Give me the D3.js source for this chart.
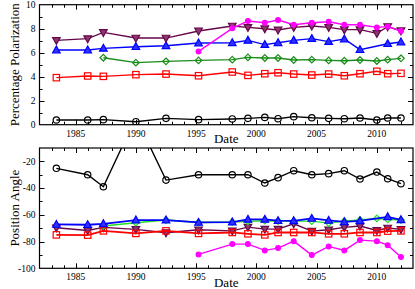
<!DOCTYPE html>
<html><head><meta charset="utf-8">
<script src="https://cdn.jsdelivr.net/npm/d3@7"></script>
<style>body{margin:0;background:#fff}svg{display:block}text{font-family:"Liberation Serif","Times New Roman",serif;fill:#000}</style>
</head><body><svg id="c" width="415" height="289"></svg>
<script>
const dates = [1983.4,1986.0,1987.3,1990.0,1992.5,1995.2,1998.0,1999.3,2000.7,2001.8,2003.1,2004.6,2006.0,2007.3,2008.6,2010.0,2010.9,2012.0];
const polBlack  = [0.39,0.39,0.42,0.25,0.53,0.42,0.48,0.53,0.61,0.50,0.67,0.58,0.53,0.50,0.56,0.39,0.56,0.56];
const polRed    = [3.92,4.06,4.03,4.17,4.22,4.08,4.39,4.11,4.25,4.33,4.22,4.14,4.22,4.08,4.25,4.45,4.25,4.28];
const polGreen  = [null,null,5.58,5.17,5.28,5.36,5.42,5.61,5.56,5.56,5.39,5.42,5.36,5.33,5.39,5.31,5.42,5.53];
const polBlue   = [6.22,6.22,6.36,6.50,6.58,6.81,6.83,7.03,6.67,6.83,7.03,7.17,6.92,7.14,6.25,null,6.75,6.89];
const polMaroon = [7.03,7.17,7.69,7.22,7.22,7.81,8.22,8.11,8.00,7.89,8.11,8.22,8.11,7.92,7.92,7.61,8.17,7.83];
const polMagenta= [null,null,null,null,null,6.11,8.03,8.64,8.50,8.72,8.33,8.50,8.58,8.33,8.33,8.11,8.17,7.81];
const paBlack   = [-25.2,-30.0,-39.0,13.0,-34.0,-30.0,-30.0,-30.0,-36.2,-32.2,-27.0,-30.0,-29.2,-27.0,-33.2,-28.0,-33.0,-36.7];
const paRed     = [-75.0,-75.2,-72.0,-73.9,-72.0,-73.9,-73.2,-74.2,-75.0,-73.2,-73.2,-73.2,-74.2,-74.2,-73.2,-73.2,-72.2,-72.0];
const paGreen   = [null,null,-68.4,-65.9,-63.9,-65.7,-65.4,-64.9,-64.4,-64.7,-64.7,-64.7,-66.2,-64.7,-63.9,-62.7,-63.4,-63.9];
const paBlue    = [-67.2,-67.4,-66.7,-63.9,-63.9,-65.7,-65.4,-63.4,-63.4,-64.4,-64.5,-62.7,-64.2,-65.2,-64.5,null,-61.5,-63.7];
const paMaroon  = [-69.7,-71.7,-69.4,-70.9,-73.4,-71.2,-72.0,-69.2,-70.7,-70.7,-66.7,-72.2,-71.2,-69.4,-68.4,-71.7,-69.9,-70.9];
const paMagenta = [null,null,null,null,null,-89.6,-81.9,-81.9,-86.6,-84.9,-79.7,-90.1,-83.6,-86.6,-78.9,-79.7,-82.7,-91.6];
const xTicks = [1985,1990,1995,2000,2005,2010];
const polTicks = [0,2,4,6,8,10];
const paTicks = [-100,-80,-60,-40,-20];

const svg = d3.select("#c");
const L = 39.5, R = 413;
const x = d3.scaleLinear().domain([1982,2013]).range([L,R]);

function panel(opts){
  const y = d3.scaleLinear().domain(opts.domain).range([opts.bottom, opts.top]);
  const g = svg.append("g");
  const id = "clip"+opts.name;
  svg.append("clipPath").attr("id",id).append("rect")
    .attr("x",L).attr("y",opts.top).attr("width",R-L).attr("height",opts.bottom-opts.top);
  const tk = g.append("g").attr("stroke","#000").attr("stroke-width",1);
  d3.range(1983,2013,1).forEach(v=>{
    const major = v%5===0, len = major?5:3, xx = Math.round(x(v))+0.5;
    tk.append("line").attr("x1",xx).attr("x2",xx).attr("y1",opts.bottom).attr("y2",opts.bottom-len);
    tk.append("line").attr("x1",xx).attr("x2",xx).attr("y1",opts.top).attr("y2",opts.top+len);
  });
  opts.minor.forEach(v=>{
    const major = opts.ticks.includes(v), len = major?5:3, yy = Math.round(y(v))+0.5;
    if (v===opts.domain[0]||v===opts.domain[1]) return;
    tk.append("line").attr("x1",L).attr("x2",L+len).attr("y1",yy).attr("y2",yy);
    tk.append("line").attr("x1",R).attr("x2",R-len).attr("y1",yy).attr("y2",yy);
  });
  g.append("rect").attr("x",L).attr("y",opts.top).attr("width",R-L).attr("height",opts.bottom-opts.top)
    .attr("fill","none").attr("stroke","#000").attr("stroke-width",1.2);
  xTicks.forEach(v=>g.append("text").attr("x",x(v)).attr("y",opts.bottom+12).attr("text-anchor","middle").attr("font-size",9.5).text(v));
  opts.ticks.forEach(v=>g.append("text").attr("x",35.5).attr("y",y(v)+3.3).attr("text-anchor","end").attr("font-size",9.5).text(v));
  g.append("text").attr("x",(L+R)/2).attr("y",opts.bottom+18.7).attr("text-anchor","middle").attr("font-size",13).text("Date");
  g.append("text").attr("transform",`translate(19,${(opts.top+opts.bottom)/2}) rotate(-90)`)
    .attr("text-anchor","middle").attr("font-size",13).text(opts.label);
  const sg = g.append("g").attr("clip-path",`url(#${id})`);
  opts.series.forEach(s=>{
    const pts = dates.map((d,i)=>({d,v:s.vals[i]})).filter(p=>p.v!==null);
    sg.append("path").datum(pts).attr("fill","none").attr("stroke",s.color).attr("stroke-width",s.lw||1.4)
      .attr("d",d3.line().x(p=>x(p.d)).y(p=>y(p.v)));
    pts.forEach(p=>{
      const cx = x(p.d), cy = y(p.v);
      let m;
      if (s.shape==="circle") m = sg.append("circle").attr("cx",cx).attr("cy",cy).attr("r",3.2).attr("fill","none");
      else if (s.shape==="dot") m = sg.append("circle").attr("cx",cx).attr("cy",cy).attr("r",2.4).attr("fill",s.color);
      else if (s.shape==="square") m = sg.append("rect").attr("x",cx-3.2).attr("y",cy-3.2).attr("width",6.4).attr("height",6.4).attr("fill","none");
      else if (s.shape==="diamond") m = sg.append("path").attr("d",`M${cx},${cy-3.3}L${cx+3.3},${cy}L${cx},${cy+3.3}L${cx-3.3},${cy}Z`).attr("fill","none");
      else if (s.shape==="up") m = sg.append("path").attr("d",`M${cx},${cy-4}L${cx+3.8},${cy+2.8}L${cx-3.8},${cy+2.8}Z`).attr("fill",s.fill);
      else if (s.shape==="down") m = sg.append("path").attr("d",`M${cx},${cy+4}L${cx+3.8},${cy-2.8}L${cx-3.8},${cy-2.8}Z`).attr("fill",s.fill);
      m.attr("stroke",s.color).attr("stroke-width",1.2);
    });
  });
}

panel({name:"pol",domain:[0,10],top:4.7,bottom:124.7,ticks:polTicks,minor:d3.range(0,11,1),label:"Percentage Polarization",
  series:[
    {vals:polBlack,color:"#000",shape:"circle"},
    {vals:polRed,color:"#ff0000",shape:"square"},
    {vals:polGreen,color:"#1a8c1a",shape:"diamond"},
    {vals:polBlue,color:"#0000ff",shape:"up",fill:"#3030ff"},
    {vals:polMaroon,color:"#67074a",shape:"down",fill:"#8a3a6e"},
    {vals:polMagenta,color:"#ff00ff",shape:"dot"}
  ]});
panel({name:"pa",domain:[-100,-10],top:148,bottom:268.3,ticks:paTicks,minor:d3.range(-100,-9,10),label:"Position Angle",
  series:[
    {vals:paBlack,color:"#000",shape:"circle"},
    {vals:paMaroon,color:"#67074a",shape:"down",fill:"#8a3a6e"},
    {vals:paGreen,color:"#22dd22",shape:"diamond"},
    {vals:paRed,color:"#ff0000",shape:"square",lw:1.8},
    {vals:paBlue,color:"#0000ff",shape:"up",fill:"#3030ff",lw:1.8},
    {vals:paMagenta,color:"#ff00ff",shape:"dot"}
  ]});
</script></body></html>
